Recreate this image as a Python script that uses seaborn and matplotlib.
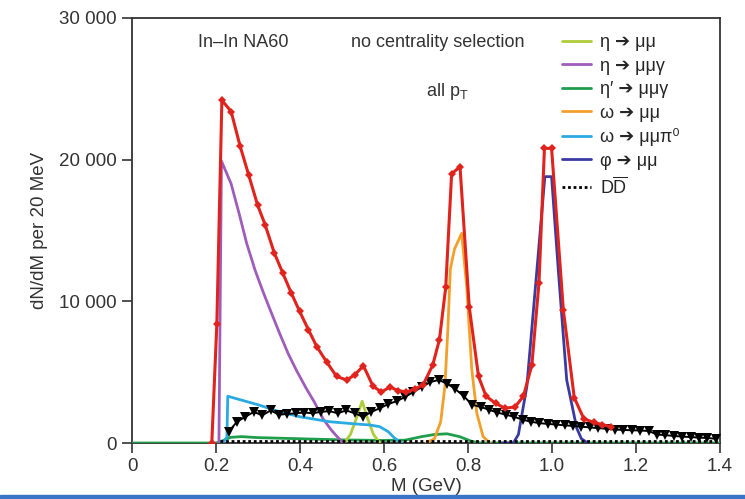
import matplotlib
matplotlib.use("Agg")
import matplotlib.pyplot as plt
from matplotlib.patches import Rectangle
import seaborn as sns
import pandas as pd

# ---------------- data (M in GeV, counts per 20 MeV) ----------------
total_m = [0.19, 0.202, 0.214, 0.236, 0.257, 0.278, 0.299, 0.317, 0.339, 0.359, 0.379,
           0.399, 0.420, 0.440, 0.464, 0.487, 0.511, 0.530, 0.551, 0.574, 0.594, 0.614,
           0.634, 0.653, 0.673, 0.693, 0.716, 0.732, 0.747, 0.761, 0.781, 0.803, 0.825,
           0.843, 0.866, 0.888, 0.912, 0.932, 0.952, 0.969, 0.982, 0.999, 1.027, 1.053,
           1.076, 1.100, 1.120, 1.140]
total_v = [0, 8400, 24200, 23400, 21000, 18900, 16800, 15400, 13400, 12000, 10600,
           9300, 8000, 6800, 5700, 4700, 4450, 4800, 5450, 4000, 3600, 3950,
           3700, 3600, 3800, 4100, 5500, 7300, 11000, 19000, 19500, 9600, 4700,
           3300, 2800, 2450, 2550, 3300, 5500, 11300, 20800, 20800, 9400, 3200,
           1700, 1450, 1300, 1150]

excess_m = [0.23, 0.25, 0.27, 0.29, 0.31, 0.33, 0.35, 0.37, 0.39, 0.41, 0.43, 0.45,
            0.47, 0.49, 0.51, 0.53, 0.55, 0.57, 0.59, 0.61, 0.63, 0.65, 0.67, 0.69,
            0.71, 0.73, 0.75, 0.77, 0.79, 0.81, 0.83, 0.85, 0.87, 0.89, 0.91, 0.93,
            0.95, 0.97, 0.99, 1.01, 1.03, 1.05, 1.07, 1.09, 1.11, 1.13, 1.15, 1.17,
            1.19, 1.21, 1.23, 1.25, 1.27, 1.29, 1.31, 1.33, 1.35, 1.37, 1.39]
excess_v = [800, 1500, 1850, 2200, 1950, 2300, 2000, 2050, 2100, 2150, 2100, 2200,
            2250, 2100, 2300, 2100, 1850, 2200, 2450, 2750, 2950, 3250, 3600, 3950,
            4300, 4450, 4200, 3800, 3300, 2700, 2550, 2350, 2150, 2000, 1850, 1650,
            1500, 1400, 1350, 1300, 1250, 1200, 1150, 1100, 1050, 1000, 950, 920,
            900, 880, 850, 600, 550, 500, 450, 420, 380, 350, 300]

eta_mm_m = [0.505, 0.520, 0.535, 0.548, 0.560, 0.575, 0.590]
eta_mm_v = [0, 600, 1800, 2950, 1800, 600, 0]

eta_mmg_m = [0.207, 0.213, 0.236, 0.255, 0.273, 0.293, 0.313, 0.333, 0.352, 0.372,
             0.392, 0.414, 0.434, 0.455, 0.475, 0.490, 0.503]
eta_mmg_v = [0, 19900, 18300, 16200, 14100, 12200, 10600, 9100, 7700, 6300,
             5100, 3900, 2900, 1700, 900, 400, 0]

etap_m = [0.0, 0.200, 0.215, 0.235, 0.260, 0.300, 0.400, 0.500, 0.600, 0.650,
          0.690, 0.720, 0.750, 0.780, 0.810, 0.830, 1.400]
etap_v = [0, 0, 150, 400, 450, 380, 300, 220, 180, 200,
          450, 600, 650, 450, 100, 0, 0]

omega_mm_m = [0.700, 0.720, 0.735, 0.745, 0.752, 0.758, 0.768, 0.785, 0.797, 0.809,
              0.821, 0.836, 0.852]
omega_mm_v = [0, 300, 1500, 4000, 8000, 12300, 13700, 14800, 11000, 5200,
              2100, 450, 0]

omega_d_m = [0.215, 0.226, 0.228, 0.300, 0.352, 0.400, 0.471, 0.530, 0.567, 0.590,
             0.610, 0.625, 0.642]
omega_d_v = [0, 400, 3300, 2700, 2200, 1850, 1500, 1350, 1270, 1150,
             800, 350, 0]

phi_m = [0.880, 0.908, 0.920, 0.940, 0.964, 0.983, 0.999, 1.015, 1.035, 1.059,
         1.070, 1.085]
phi_v = [0, 0, 600, 3970, 12200, 18800, 18800, 12200, 4450, 1040,
         300, 0]

dd_m = [0.210, 1.400]
dd_v = [120, 120]

labels = ["η ➔ μμ", "η ➔ μμγ", "η′ ➔ μμγ", "ω ➔ μμ", "ω ➔ μμπ⁰", "φ ➔ μμ",
          r"D$\mathregular{\overline{D}}$"]
x_ticks = [0, 0.2, 0.4, 0.6, 0.8, 1.0, 1.2, 1.4]
x_tick_labels = ["0", "0.2", "0.4", "0.6", "0.8", "1.0", "1.2", "1.4"]
y_ticks = [0, 10000, 20000, 30000]
y_tick_labels = ["0", "10 000", "20 000", "30 000"]

# ---------------- style ----------------
sns.set_theme(style="ticks")
plt.rcParams['font.family'] = ['Liberation Sans', 'DejaVu Sans']
plt.rcParams['mathtext.fontset'] = 'custom'
plt.rcParams['mathtext.rm'] = 'Liberation Sans'
plt.rcParams['axes.edgecolor'] = '#333333'
plt.rcParams['xtick.color'] = '#333333'
plt.rcParams['ytick.color'] = '#333333'

fig = plt.figure(figsize=(7.45, 4.99), dpi=100)
ax = fig.add_axes([132 / 745, 1 - 443 / 499, 588 / 745, 425 / 499])

c_eta = "#afcc3a"
c_etag = "#a05cbb"
c_etap = "#1f9e4b"
c_om = "#f2a02a"
c_omd = "#2aaae0"
c_phi = "#3a3aa3"
c_tot = "#e0231c"

def line(mx, vy, **kw):
    df = pd.DataFrame({"M": mx, "V": vy})
    sns.lineplot(data=df, x="M", y="V", ax=ax, sort=False, estimator=None, **kw)

line(etap_m, etap_v, color=c_etap, lw=2.0, label=labels[2], zorder=3)
line(dd_m, dd_v, color="black", lw=2.0, ls=(0, (1, 1)), label=labels[6], zorder=4)
line(eta_mm_m, eta_mm_v, color=c_eta, lw=2.0, label=labels[0], zorder=3)
line(eta_mmg_m, eta_mmg_v, color=c_etag, lw=2.0, label=labels[1], zorder=3)
line(omega_mm_m, omega_mm_v, color=c_om, lw=2.0, label=labels[3], zorder=3)
line(omega_d_m, omega_d_v, color=c_omd, lw=2.0, label=labels[4], zorder=3)
line(phi_m, phi_v, color=c_phi, lw=2.0, label=labels[5], zorder=3)
line(excess_m, excess_v, color="black", lw=1.4, marker="v", markersize=7.5,
     markeredgewidth=0, legend=False, zorder=5)
line(total_m, total_v, color=c_tot, lw=2.2, marker="D", markersize=4.5,
     markeredgewidth=0, legend=False, zorder=6)

ax.set_xlim(0, 1.4)
ax.set_ylim(0, 30000)
ax.set_xticks(x_ticks)
ax.set_xticklabels(x_tick_labels)
ax.set_yticks(y_ticks)
ax.set_yticklabels(y_tick_labels)
ax.tick_params(axis='both', direction='out', length=7, width=1.2, labelsize=13.5, pad=4)
for s in ax.spines.values():
    s.set_linewidth(1.3)
ax.set_ylabel("dN/dM per 20 MeV", fontsize=13.5, color='#333333', labelpad=8)
ax.set_xlabel("M (GeV)", fontsize=13.5, color='#333333', labelpad=2)

ax.text(0.265, 28300, "In–In NA60", fontsize=13, color='#333333', ha='center', va='center')
ax.text(0.729, 28300, "no centrality selection", fontsize=13, color='#333333',
        ha='center', va='center')
ax.text(0.75, 24800, r"all $\mathregular{p_T}$", fontsize=13, color='#333333',
        ha='center', va='center')

handles, labs = ax.get_legend_handles_labels()
order = [labels.index(l) for l in labs]
pairs = sorted(zip(order, handles, labs))
ax.legend([p[1] for p in pairs], [p[2] for p in pairs], loc='upper left',
          bbox_to_anchor=(0.71, 0.992), frameon=False, fontsize=13,
          handlelength=1.6, handletextpad=0.5, labelspacing=0.36, borderpad=0.2)

fig.patches.append(Rectangle((0, 0), 1, 4 / 499, transform=fig.transFigure,
                             color='#3a74c8', zorder=10))

fig.savefig("out.png", dpi=100)
